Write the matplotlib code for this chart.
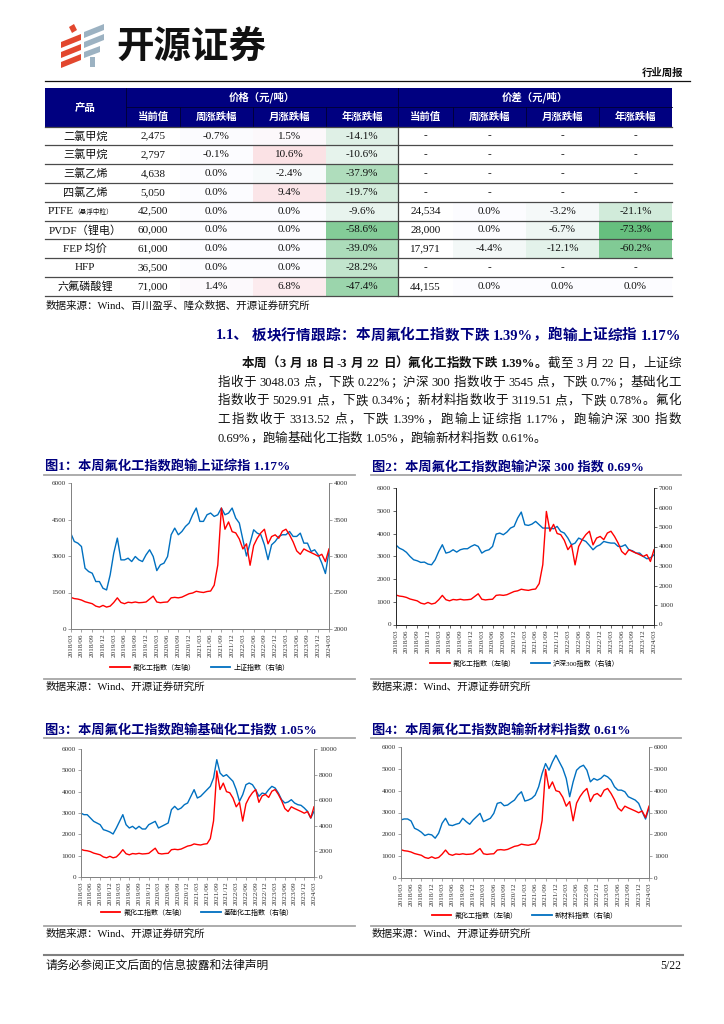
import matplotlib
matplotlib.use('Agg')
import matplotlib.pyplot as plt
from matplotlib.patches import Rectangle, Polygon
from matplotlib.lines import Line2D
from matplotlib.font_manager import FontProperties
import numpy as np
import pandas as pd

plt.rcParams['font.family'] = ['Liberation Serif', 'Noto Sans CJK SC', 'DejaVu Sans']
plt.rcParams['axes.unicode_minus'] = False

# ---------------- table data ----------------
products = ['二氯甲烷', '三氯甲烷', '三氯乙烯', '四氯乙烯', 'PTFE', 'PVDF（锂电）', 'FEP 均价', 'HFP', '六氟磷酸锂']
product_notes = ['', '', '', '', '（悬浮中粒）', '', '', '', '']
price_cur = [2475, 2797, 4638, 5050, 42500, 60000, 61000, 36500, 71000]
price_wk = [-0.7, -0.1, 0.0, 0.0, 0.0, 0.0, 0.0, 0.0, 1.4]
price_mo = [1.5, 10.6, -2.4, 9.4, 0.0, 0.0, 0.0, 0.0, 6.8]
price_yr = [-14.1, -10.6, -37.9, -19.7, -9.6, -58.6, -39.0, -28.2, -47.4]
spread_cur = [None, None, None, None, 24534, 28000, 17971, None, 44155]
spread_wk = [None, None, None, None, 0.0, 0.0, -4.4, None, 0.0]
spread_mo = [None, None, None, None, -3.2, -6.7, -12.1, None, 0.0]
spread_yr = [None, None, None, None, -21.1, -73.3, -60.2, None, 0.0]
group_headers = ['价格（元/吨）', '价差（元/吨）']
sub_headers = ['当前值', '周涨跌幅', '月涨跌幅', '年涨跌幅', '当前值', '周涨跌幅', '月涨跌幅', '年涨跌幅']

# ---------------- chart data (monthly, 2018/03 - 2024/03) ----------------
months = [p.strftime('%Y/%m') for p in pd.period_range('2018-03', '2024-03', freq='M')]
tick_labels = ['2018/03', '2018/06', '2018/09', '2018/12', '2019/03', '2019/06', '2019/09', '2019/12',
               '2020/03', '2020/06', '2020/09', '2020/12', '2021/03', '2021/06', '2021/09', '2021/12',
               '2022/03', '2022/06', '2022/09', '2022/12', '2023/03', '2023/06', '2023/09', '2023/12',
               '2024/03']
fluoro = [1300, 1250, 1230, 1190, 1120, 1080, 1040, 940, 900, 970,
          900, 940, 1090, 1280, 1090, 1040, 1100, 1080, 1110, 1080, 1090, 1110,
          1230, 1350, 1110, 1080, 1100, 1110, 1280, 1300, 1280, 1310, 1380, 1450,
          1480, 1550, 1520, 1500, 1540, 1560, 1800, 2630, 4970, 4100, 4400, 4000,
          3950, 3700, 3290, 3500, 2620, 3430, 3730, 3950, 4100, 3500, 3800, 3870,
          3730, 4020, 4100, 3870, 3580, 3210, 3070, 3290, 3210, 3140, 3070, 2990,
          3070, 2770, 3290]
sse = [3313, 3199, 3176, 3130, 2833, 2787, 2764, 2650, 2650, 2558,
       2535, 2741, 3039, 3245, 2947, 2947, 2970, 2924, 2993, 2947, 2924, 3016,
       3085, 2993, 2800, 2879, 2902, 2993, 3291, 3382, 3291, 3336, 3405, 3451,
       3565, 3657, 3474, 3474, 3565, 3588, 3542, 3565, 3657, 3565, 3588, 3657,
       3519, 3451, 3222, 3000, 3176, 3359, 3313, 3291, 3153, 2950, 3153, 3199,
       3268, 3291, 3291, 3336, 3268, 3268, 3313, 3176, 3176, 3062, 3085, 3016,
       2902, 2760, 3062]
hs300 = [4090, 3918, 3833, 3700, 3490, 3320, 3268, 3183, 3200, 3097,
         3063, 3320, 3747, 4090, 3662, 3713, 3833, 3713, 3833, 3884, 3884, 4004,
         4090, 4004, 3662, 3781, 3833, 4004, 4637, 4688, 4603, 4740, 4945, 5031,
         5458, 5766, 5116, 5082, 5150, 5287, 5116, 4945, 4945, 4945, 4911, 5031,
         4774, 4688, 4432, 4090, 4175, 4432, 4346, 4260, 4055, 3833, 4004, 4090,
         4260, 4209, 4175, 4175, 4004, 4004, 4090, 3833, 3781, 3662, 3662, 3490,
         3371, 3420, 3576]
basic_chem = [5000, 4870, 4870, 4609, 4349, 4219, 4088, 3698, 3620, 3515,
              3359, 3828, 4349, 4870, 4088, 3828, 3958, 3750, 3958, 3750, 3750, 4088,
              4219, 4349, 3828, 3958, 4088, 4219, 5260, 5520, 5260, 5390, 5651, 5781,
              6302, 6823, 6172, 6302, 6562, 6823, 7083, 7734, 9166, 8125, 7864, 7994,
              7734, 7474, 6823, 5911, 6432, 7213, 7343, 7213, 6823, 6302, 6562, 6484,
              6823, 7083, 6953, 6562, 6041, 5781, 5859, 6041, 5781, 5651, 5599, 5390,
              5130, 4600, 5130]
new_mat = [2658, 2704, 2704, 2613, 2279, 2203, 2096, 1944, 2005, 1975,
           1823, 2051, 2506, 2734, 2430, 2400, 2461, 2506, 2734, 2582, 2461, 2658,
           2810, 2962, 2582, 2658, 2734, 2962, 3418, 3463, 3311, 3342, 3463, 3570,
           3798, 3950, 3524, 3570, 3646, 3798, 4177, 4785, 5241, 4937, 5317, 5621,
           5317, 5013, 4557, 3722, 4405, 4937, 5089, 5165, 4937, 4405, 4557, 4481,
           4557, 4709, 4633, 4481, 4177, 4025, 4025, 3950, 3722, 3646, 3570, 3418,
           3038, 2700, 3190]

# ---------------- page texts ----------------
heading_num = '1.1、'
heading_txt = '板块行情跟踪：本周氟化工指数下跌 1.39%，跑输上证综指 1.17%'
para_lines = [
    [('本周（3 月 18 日-3 月 22 日）氟化工指数下跌 1.39%。', 'bold'), ('截至 3 月 22 日，上证综', 'normal')],
    [('指收于 3048.03 点，下跌 0.22%；沪深 300 指数收于 3545 点，下跌 0.7%；基础化工', 'normal')],
    [('指数收于 5029.91 点，下跌 0.34%；新材料指数收于 3119.51 点，下跌 0.78%。氟化', 'normal')],
    [('工指数收于 3313.52 点，下跌 1.39%，跑输上证综指 1.17%，跑输沪深 300 指数', 'normal')],
    [('0.69%，跑输基础化工指数 1.05%，跑输新材料指数 0.61%。', 'normal')],
]

RED = '#FF0000'
BLUE = '#0070C0'
NAVY = '#000080'
CJK = ['Noto Sans CJK SC', 'DejaVu Sans']
SER = ['Liberation Serif', 'Noto Sans CJK SC', 'DejaVu Sans']
PUNCT = set('，。；：、（）！？')

W, H = 724, 1024
fig = plt.figure(figsize=(W / 100, H / 100), dpi=100)
page = fig.add_axes([0, 0, 1, 1])
page.set_xlim(0, W)
page.set_ylim(H, 0)
page.axis('off')
renderer = fig.canvas.get_renderer()

# ---------------- logo / header ----------------
red_shapes = [[(69, 27), (74, 24), (77, 30), (72, 33)],
              [(61, 42), (81, 34), (81, 40), (61, 48)],
              [(61, 52), (81, 44), (81, 50), (61, 58)],
              [(61, 62), (81, 54), (81, 60), (61, 68)]]
gray_shapes = [[(84, 32), (104, 24), (104, 30), (84, 38)],
               [(84, 42), (104, 34), (104, 40), (84, 48)],
               [(84, 52), (100, 46), (100, 52), (84, 58)],
               [(90, 57), (95, 57), (95, 67), (90, 67)]]
for pts in red_shapes:
    page.add_patch(Polygon(pts, closed=True, facecolor='#E2472E', edgecolor='none'))
for pts in gray_shapes:
    page.add_patch(Polygon(pts, closed=True, facecolor='#9CB2C2', edgecolor='none'))
page.text(116, 46, '开源证券', fontsize=27, fontweight='bold', family=CJK, color='#111111',
          ha='left', va='center')
page.text(683, 73, '行业周报', fontsize=7.5, fontweight='bold', family=CJK, color='#111111',
          ha='right', va='center')
page.plot([45, 690], [81, 81], color='#111111', lw=0.9)

# ---------------- table ----------------
x_edges = [44.7, 126, 180, 253, 326, 398, 453, 526, 599, 672]
hdr_top, hdr_mid, hdr_bot = 88.3, 107, 126.7
row_h = 18.78


def cell_color(v):
    lo = np.array([0xFC, 0xFC, 0xFF]) / 255
    if v < 0:
        t = min(1.0, -v / 75.0)
        hi = np.array([0x63, 0xBE, 0x7B]) / 255
    else:
        t = min(1.0, v / 60.0)
        hi = np.array([0xF8, 0x69, 0x6B]) / 255
    return tuple(lo + (hi - lo) * t)


page.add_patch(Rectangle((x_edges[0], hdr_top), x_edges[-1] - x_edges[0], hdr_bot - hdr_top,
                         facecolor=NAVY, edgecolor='none'))
page.text((x_edges[0] + x_edges[1]) / 2, (hdr_top + hdr_bot) / 2, '产品', color='white',
          fontsize=7.5, fontweight='bold', family=CJK, ha='center', va='center')
page.text((x_edges[1] + x_edges[5]) / 2, (hdr_top + hdr_mid) / 2, group_headers[0], color='white',
          fontsize=7.5, fontweight='bold', family=CJK, ha='center', va='center')
page.text((x_edges[5] + x_edges[9]) / 2, (hdr_top + hdr_mid) / 2, group_headers[1], color='white',
          fontsize=7.5, fontweight='bold', family=CJK, ha='center', va='center')
for j, lab in enumerate(sub_headers):
    page.text((x_edges[j + 1] + x_edges[j + 2]) / 2, (hdr_mid + hdr_bot) / 2, lab, color='white',
              fontsize=7.5, fontweight='bold', family=CJK, ha='center', va='center')
page.plot([x_edges[1], x_edges[-1]], [hdr_mid, hdr_mid], color='#000030', lw=0.6)
for xe in x_edges[1:-1]:
    page.plot([xe, xe], [hdr_mid if xe not in (x_edges[1], x_edges[5]) else hdr_top, hdr_bot],
              color='#000030', lw=0.6)

cols = [price_cur, price_wk, price_mo, price_yr, spread_cur, spread_wk, spread_mo, spread_yr]
kinds = ['num', 'pct', 'pct', 'pct', 'num', 'pct', 'pct', 'pct']
for i in range(len(products)):
    y0 = hdr_bot + i * row_h
    y1 = y0 + row_h
    yc = (y0 + y1) / 2
    xc0 = (x_edges[0] + x_edges[1]) / 2
    if product_notes[i]:
        page.text(73.5, yc, products[i], fontsize=8, ha='right', va='center', color='#111111')
        page.text(73.5, yc + 0.5, product_notes[i], fontsize=4.8, family=CJK, ha='left', va='center',
                  color='#111111')
    else:
        page.text(xc0, yc, products[i], fontsize=8, ha='center', va='center', color='#111111')
    for j, (vals, kind) in enumerate(zip(cols, kinds)):
        v = vals[i]
        xa, xb = x_edges[j + 1], x_edges[j + 2]
        if v is None or kind == 'num':
            fc = '#FFFFFF'
        else:
            fc = cell_color(v)
        page.add_patch(Rectangle((xa, y0), xb - xa, row_h, facecolor=fc, edgecolor='none'))
        if v is None:
            s = '-'
        elif kind == 'num':
            s = f'{v:,}'
        else:
            s = f'{v:.1f}%'
        page.text((xa + xb) / 2, yc, s, fontsize=8, ha='center', va='center', color='#111111')
    page.plot([x_edges[0], x_edges[-1]], [y1, y1], color='#4a4a4a', lw=0.9)
page.plot([x_edges[0], x_edges[-1]], [hdr_bot, hdr_bot], color='#4a4a4a', lw=0.9)
page.plot([x_edges[5], x_edges[5]], [hdr_bot, hdr_bot + row_h * len(products)], color='#404040', lw=0.9)

page.text(46, 306, '数据来源：Wind、百川盈孚、隆众数据、开源证券研究所', fontsize=7.6, ha='left', va='center',
          color='#111111')


# ---------------- heading + paragraph (justified) ----------------
def is_cjk(ch):
    return ord(ch) >= 0x2E80


def tokenize(s):
    toks, buf = [], ''
    for ch in s:
        if is_cjk(ch):
            if buf.strip():
                toks.append(buf.strip())
            buf = ''
            toks.append(ch)
        elif ch == ' ':
            if buf.strip():
                toks.append(buf.strip())
            buf = ''
        else:
            buf += ch
    if buf.strip():
        toks.append(buf.strip())
    return toks


def place_line(segments, x0, x1, y, size, color, justify=True):
    items = []
    for txt, wt in segments:
        for tk in tokenize(txt):
            t = page.text(0, y, tk, fontsize=size, fontweight=wt, family=SER, color=color,
                          ha='left', va='baseline')
            w = t.get_window_extent(renderer).width
            items.append([t, w, tk])
    em = size * 100 / 72
    gaps = []
    for a, b in zip(items[:-1], items[1:]):
        ca, cb = a[2][-1], b[2][0]
        if ca in PUNCT or cb in PUNCT:
            gaps.append(0.0)
        elif is_cjk(ca) != is_cjk(cb):
            gaps.append(0.25 * em)
        else:
            gaps.append(0.0)
    total = sum(it[1] for it in items) + sum(gaps)
    extra = (x1 - x0 - total) / len(gaps) if (justify and gaps) else 0.0
    x = x0
    for k, it in enumerate(items):
        it[0].set_x(x)
        x += it[1]
        if k < len(gaps):
            x += gaps[k] + extra


page.text(215.7, 334 + 5.5, heading_num, fontsize=10.5, fontweight='bold', color=NAVY,
          ha='left', va='baseline')
place_line([(heading_txt, 'bold')], 251.5, 681, 334 + 5.5, 10.5, NAVY)
para_y = [362, 381, 399.5, 418, 437]
for k, segs in enumerate(para_lines):
    x0 = 241.5 if k == 0 else 217.5
    place_line(segs, x0, 681, para_y[k] + 4.6, 9, '#111111', justify=(k < len(para_lines) - 1))


# ---------------- charts ----------------
def chart(box, left, right, lticks, rticks, names, leg_y, spine_col):
    l, r, t, b = box
    ax = fig.add_axes([l / W, 1 - b / H, (r - l) / W, (b - t) / H])
    ax2 = ax.twinx()
    x = np.arange(len(months))
    ax2.plot(x, right, color=BLUE, lw=1.0)
    ax.plot(x, left, color=RED, lw=1.0)
    ax.set_zorder(ax2.get_zorder() + 1)
    ax.patch.set_visible(False)
    ax2.patch.set_visible(False)
    ax.set_xlim(0, len(months) - 1)
    ax.set_ylim(lticks[0], lticks[-1])
    ax.set_yticks(lticks)
    ax2.set_ylim(rticks[0], rticks[-1])
    ax2.set_yticks(rticks)
    ax.set_xticks(np.arange(0, len(months), 3))
    ax.set_xticklabels(tick_labels, rotation=90)
    for a in (ax, ax2):
        for s in a.spines.values():
            s.set_color(spine_col)
            s.set_linewidth(0.7)
        a.spines['top'].set_visible(False)
        a.tick_params(labelsize=5.2, length=2, width=0.5, color=spine_col, labelcolor='#333333', pad=1.5)
    ax.spines['right'].set_visible(False)
    ax2.spines['left'].set_visible(False)
    ax2.spines['bottom'].set_visible(False)
    handles = [Line2D([], [], color=RED, lw=1.3), Line2D([], [], color=BLUE, lw=1.3)]
    ax.legend(handles, names, loc='center', bbox_to_anchor=((l + r) / 2 / W, 1 - leg_y / H),
              bbox_transform=fig.transFigure, ncol=2, frameon=False,
              prop=FontProperties(family=SER, size=5), handlelength=2.8, handletextpad=0.4,
              columnspacing=2.2)
    return ax


chart((70.7, 329, 483, 629), fluoro, sse, [0, 1500, 3000, 4500, 6000], [2000, 2500, 3000, 3500, 4000],
      ['氟化工指数（左轴）', '上证指数（右轴）'], 667, '#808080')
chart((395.7, 654, 488, 624.5), fluoro, hs300, [0, 1000, 2000, 3000, 4000, 5000, 6000],
      [0, 1000, 2000, 3000, 4000, 5000, 6000, 7000], ['氟化工指数（左轴）', '沪深300指数（右轴）'], 663, '#262626')
chart((80.7, 314, 749, 877), fluoro, basic_chem, [0, 1000, 2000, 3000, 4000, 5000, 6000],
      [0, 2000, 4000, 6000, 8000, 10000], ['氟化工指数（左轴）', '基础化工指数（右轴）'], 912, '#808080')
chart((400.7, 649, 747, 878), fluoro, new_mat, [0, 1000, 2000, 3000, 4000, 5000, 6000],
      [0, 1000, 2000, 3000, 4000, 5000, 6000], ['氟化工指数（左轴）', '新材料指数（右轴）'], 915, '#808080')

titles = [('图1：本周氟化工指数跑输上证综指 1.17%', 45, 467),
          ('图2：本周氟化工指数跑输沪深 300 指数 0.69%', 372, 467),
          ('图3：本周氟化工指数跑输基础化工指数 1.05%', 45, 730),
          ('图4：本周氟化工指数跑输新材料指数 0.61%', 372, 730)]
for txt, x, y in titles:
    page.text(x, y, txt, fontsize=9.5, fontweight='bold', color=NAVY, ha='left', va='center')
for y in (475, 738, 679, 926):
    page.plot([44, 355], [y, y], color='#A6A6A6', lw=1.3)
    page.plot([371, 681], [y, y], color='#A6A6A6', lw=1.3)
for x, y in ((46, 687), (372, 687), (46, 934), (372, 934)):
    page.text(x, y, '数据来源：Wind、开源证券研究所', fontsize=7.6, ha='left', va='center', color='#111111')

# ---------------- footer ----------------
page.plot([44, 683], [955, 955], color='#808080', lw=1.5)
page.text(46, 966, '请务必参阅正文后面的信息披露和法律声明', fontsize=8.5, ha='left', va='center', color='#111111')
page.text(681, 966, '5/22', fontsize=8.5, ha='right', va='center', color='#111111')

fig.savefig('out.png', dpi=100)
